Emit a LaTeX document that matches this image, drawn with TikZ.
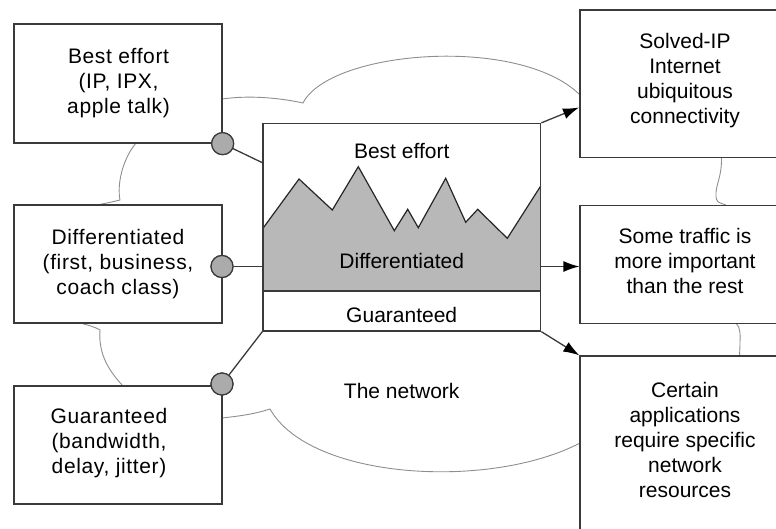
\documentclass[tikz,border=0pt]{standalone}
\usepackage{fontspec}
\setmainfont{Liberation Sans}
\usetikzlibrary{arrows.meta,calc}
\definecolor{edgegray}{HTML}{3A3A3A}
\definecolor{cloudgray}{HTML}{8E8E8E}
\definecolor{fillgray}{HTML}{B8B8B8}
\definecolor{dotgray}{HTML}{ABABAB}
\begin{document}
\begin{tikzpicture}[x=1pt,y=-1pt,
  frame/.style={draw=edgegray,line width=1.3pt,inner sep=0pt},
  lbl/.style={align=center,inner sep=0pt,font=\fontsize{21}{25}\selectfont},
  widelbl/.style={lbl,font=\fontsize{21}{25}\selectfont\addfontfeature{LetterSpace=3}},
  cloud/.style={draw=cloudgray,line width=0.9pt},
  dot/.style={circle,draw=edgegray,line width=1.2pt,fill=dotgray,minimum size=22pt,inner sep=0pt},
  link/.style={draw=edgegray,line width=1.3pt},
  arr/.style={draw=edgegray,line width=1.3pt,-{Latex[length=16pt,width=11pt,color=black]}},
  jag/.style={draw=black!85,line width=1.2pt,line join=miter}]
\useasboundingbox (0,0) rectangle (776,529);
\begin{scope}
\clip (0,0) rectangle (776,529);

% the network cloud, drawn first so the boxes sit on top of it
\draw[cloud] (222,99) .. controls (250,95) and (280,98) .. (303,103)
  .. controls (330,50) and (520,35) .. (580,95);
\draw[cloud] (136,143) .. controls (122,160) and (117,185) .. (120,200)
  .. controls (112,202) .. (97,205);
\draw[cloud] (80,323) .. controls (88,325) and (95,327) .. (100,330)
  .. controls (98,355) and (110,372) .. (123,386);
\draw[cloud] (222,418) .. controls (240,416) and (255,414) .. (270,409)
  .. controls (310,480) and (490,490) .. (580,443);
\draw[cloud] (721.5,157) .. controls (722,178) and (715,185) .. (716,197)
  .. controls (717,202) .. (726,205);
\draw[cloud] (736,323) .. controls (741,328) and (740,335) .. (740,345) -- (739.5,356);

% service classes on the left
\node[frame,minimum width=208pt,minimum height=119pt] (b1) at (118,83.5) {};
\node[frame,minimum width=208pt,minimum height=118pt] (b2) at (118,264) {};
\node[frame,minimum width=208pt,minimum height=118pt] (b3) at (118,445) {};
\node[widelbl] (t1) at (118.5,83) {Best effort\\(IP, IPX,\\apple talk)};
\node[widelbl] (t2) at (118,264) {Differentiated\\(first, business,\\coach class)};
\node[widelbl] (t3) at (109,443) {Guaranteed\\(bandwidth,\\delay, jitter)};

% outcomes on the right
\node[frame,minimum width=210pt,minimum height=147.5pt] (r1) at (685,83.75) {};
\node[frame,minimum width=210pt,minimum height=117.8pt] (r2) at (685,264.4) {};
\node[frame,minimum width=210pt,minimum height=204pt] (r3) at (685,458) {};
\node[lbl] (s1) at (685,80.5) {Solved-IP\\Internet\\ubiquitous\\connectivity};
\node[lbl] (s2) at (685,261) {Some traffic is\\more important\\than the rest};
\node[lbl] (s3) at (685,439.5) {Certain\\applications\\require specific\\network\\resources};

% traffic profile inside the network
\fill[fillgray] (263,228.3) -- (299,179) -- (332.3,210) -- (358.3,166.7)
  -- (394.3,230.7) -- (407.7,209.3) -- (418.3,227.7) -- (445.7,178.3)
  -- (465.7,222.3) -- (477.7,209.3) -- (507.3,238.3) -- (540.7,186)
  -- (540.7,291) -- (263,291) -- cycle;
\draw[jag] (263,228.3) -- (299,179) -- (332.3,210) -- (358.3,166.7)
  -- (394.3,230.7) -- (407.7,209.3) -- (418.3,227.7) -- (445.7,178.3)
  -- (465.7,222.3) -- (477.7,209.3) -- (507.3,238.3) -- (540.7,186);
\draw[link] (263,291) -- (540.7,291);
\node[frame,minimum width=277.7pt,minimum height=207.5pt] (net) at (401.85,227.25) {};
\node[lbl] (l1) at (401.7,151) {Best effort};
\node[lbl] (l2) at (401.7,261) {Differentiated};
\node[lbl] (l3) at (401.7,315) {Guaranteed};
\node[lbl] (l4) at (401.7,391) {The network};

% attachment points
\coordinate (in1) at (263,163);
\coordinate (out1) at (579,107.5);

\node[dot] (c1) at (b1.south east) {};
\node[dot] (c2) at (222,266.5) {};
\node[dot] (c3) at (222,384) {};

\draw[link] (c1) -- (in1);
\draw[link] (c2) -- (net.west |- c2);
\draw[link] (c3) -- (net.south west);
\node[dot] at (c1) {};
\node[dot] at (c2) {};
\node[dot] at (c3) {};

\draw[arr] (net.north east) -- (out1);
\draw[arr] (net.east |- c2) -- (r2.west |- c2);
\draw[arr] (net.south east) -- (r3.north west);
\end{scope}
\end{tikzpicture}
\end{document}
